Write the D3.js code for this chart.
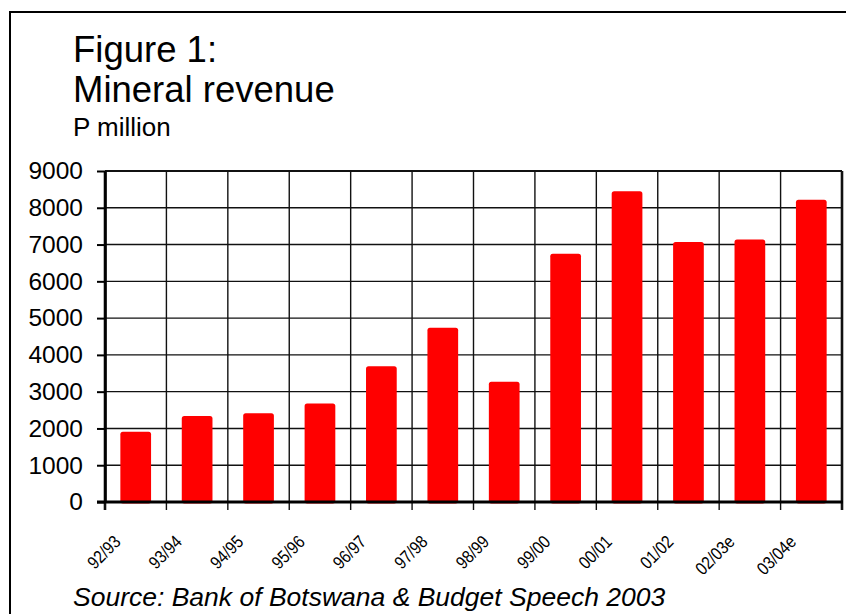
<!DOCTYPE html>
<html>
<head>
<meta charset="utf-8">
<script src="https://cdn.jsdelivr.net/npm/d3@7"></script>
<style>
  html, body { margin: 0; padding: 0; background: #fff; }
  svg { display: block; font-family: "Liberation Sans", Arial, sans-serif; }
</style>
</head>
<body>
<div id="chart"></div>
<script>
// Data
const years = ["92/93", "93/94", "94/95", "95/96", "96/97", "97/98",
  "98/99", "99/00", "00/01", "01/02", "02/03e", "03/04e"];
const revenue = [1910, 2340, 2410, 2680, 3690, 4740, 3270, 6750, 8450, 7070, 7140, 8220];
const yTicks = [0, 1000, 2000, 3000, 4000, 5000, 6000, 7000, 8000, 9000];

const width = 846;
const height = 614;
const plot = { left: 105, right: 842, top: 171, bottom: 502 };

const svg = d3.select("#chart")
  .append("svg")
  .attr("width", width)
  .attr("height", height);

svg.append("rect")
  .attr("width", width)
  .attr("height", height)
  .attr("fill", "#fff");

// outer frame (runs off the right and bottom edges)
svg.append("rect")
  .attr("x", 10)
  .attr("y", 12)
  .attr("width", width)
  .attr("height", height)
  .attr("fill", "none")
  .attr("stroke", "#000")
  .attr("stroke-width", 2);

// Titles
svg.append("text")
  .attr("x", 73).attr("y", 62)
  .attr("font-size", "36.5px")
  .text("Figure 1:");
svg.append("text")
  .attr("x", 73).attr("y", 102)
  .attr("font-size", "36.5px")
  .text("Mineral revenue");
svg.append("text")
  .attr("x", 73).attr("y", 136)
  .attr("font-size", "26px")
  .text("P million");

// Scales
const xGrid = d3.scaleBand()
  .domain(years)
  .range([plot.left, plot.right])
  .padding(0);

const xBar = d3.scaleBand()
  .domain(years)
  .range([plot.left, plot.right])
  .paddingInner(0.5)
  .paddingOuter(0.25);

const y = d3.scaleLinear()
  .domain([0, 9000])
  .range([plot.bottom, plot.top]);

// horizontal grid lines
svg.append("g")
  .selectAll("line")
  .data(yTicks)
  .enter()
  .append("line")
  .attr("x1", plot.left)
  .attr("x2", plot.right)
  .attr("y1", (d) => y(d))
  .attr("y2", (d) => y(d))
  .attr("stroke", "#111")
  .attr("stroke-width", (d) => (d === 9000 ? 2 : 1.4));

// vertical grid lines at category boundaries, with ticks under the axis
const bounds = years.map((c) => xGrid(c)).concat([plot.right]);
svg.append("g")
  .selectAll("line")
  .data(bounds)
  .enter()
  .append("line")
  .attr("x1", (d) => d)
  .attr("x2", (d) => d)
  .attr("y1", plot.top)
  .attr("y2", plot.bottom + 8)
  .attr("stroke", "#111")
  .attr("stroke-width", (d, i) => (i === 0 || i === bounds.length - 1 ? 2.6 : 1.4));

// Bars
svg.append("g")
  .selectAll("rect")
  .data(revenue)
  .enter()
  .append("rect")
  .attr("x", (d, i) => xBar(years[i]))
  .attr("y", (d) => y(d))
  .attr("width", xBar.bandwidth())
  .attr("height", (d) => y(0) - y(d) + 1.5)
  .attr("rx", 2.5)
  .attr("fill", "#ff0000");

// Y axis
const yAxis = svg.append("g")
  .attr("transform", `translate(${plot.left},0)`)
  .call(d3.axisLeft(y).tickValues(yTicks).tickFormat(d3.format("d"))
    .tickSize(8).tickPadding(14).tickSizeOuter(0));
yAxis.select(".domain").attr("stroke", "#000").attr("stroke-width", 2.6);
yAxis.selectAll(".tick line").attr("stroke", "#000").attr("stroke-width", 2);
yAxis.selectAll("text")
  .attr("font-size", "24.5px")
  .attr("font-family", "Liberation Sans, Arial, sans-serif")
  .attr("fill", "#000");

// zero line
svg.append("line")
  .attr("x1", plot.left - 8)
  .attr("x2", plot.right + 1)
  .attr("y1", y(0))
  .attr("y2", y(0))
  .attr("stroke", "#000")
  .attr("stroke-width", 3);

// X labels (rotated, slightly condensed)
svg.append("g")
  .selectAll("text")
  .data(years)
  .enter()
  .append("text")
  .attr("transform", (d) => {
    const cx = xGrid(d) + xGrid.bandwidth() / 2 - 14;
    return `translate(${cx},543) rotate(-45) scale(0.85,1)`;
  })
  .attr("text-anchor", "end")
  .attr("font-size", "18px")
  .text((d) => d);

// Source
svg.append("text")
  .attr("x", 73).attr("y", 606)
  .attr("font-size", "26.5px")
  .attr("font-style", "italic")
  .text("Source: Bank of Botswana & Budget Speech 2003");
</script>
</body>
</html>
